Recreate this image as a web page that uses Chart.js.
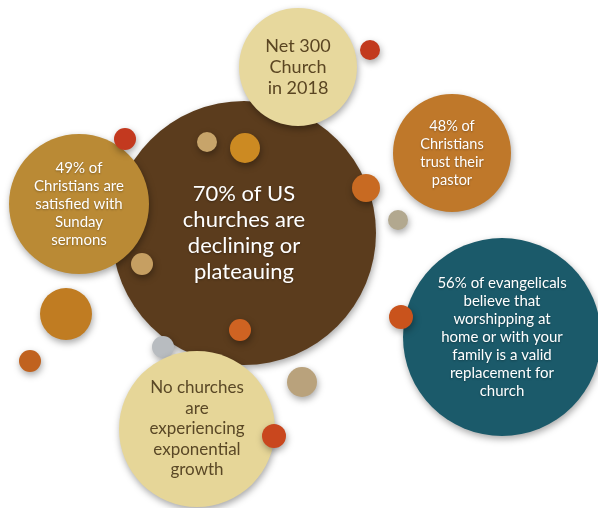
<!DOCTYPE html>
<html>
<head>
<meta charset="utf-8">
<script src="https://cdn.jsdelivr.net/npm/chart.js@4/dist/chart.umd.min.js"></script>
<style>
  html, body { margin: 0; padding: 0; background: #fff; }
  #wrap { width: 598px; height: 508px; }
</style>
</head>
<body>
<div id="wrap"><canvas id="bubbles"></canvas></div>
<script>
// bubble centres (x, y) and radii, drawn in this order
const bubbleX = [244, 298, 370, 452, 366, 398, 502, 401, 79, 125, 207, 245, 142, 66, 30, 240, 163, 197, 274, 302];
const bubbleY = [233, 67, 50, 153, 188, 220, 337, 317, 204, 139, 142, 148, 264, 314, 361, 330, 347, 429, 436, 382];
const bubbleR = [132, 59, 10, 59, 14, 10, 99, 12, 70, 11, 10, 15, 11, 26, 11, 11, 11, 78, 12, 15];

const bubbleColors = [
  "#5b3c1d", "#e7d89d", "#c23a1e", "#bf782a", "#c86a22", "#b2a88f", "#1b5a6a", "#c9531c",
  "#ba8a35", "#c3391f", "#c7a46a", "#cc8a22", "#c69f62", "#c07c22", "#c0621f", "#cf6322",
  "#b8bcc0", "#e6d698", "#c9471e", "#b9a27c"
];

// text written inside the larger bubbles (index into the arrays above)
const labelIndex = [0, 1, 3, 8, 6, 17];
const labelLines = [
  ["70% of US", "churches are", "declining or", "plateauing"],
  ["Net 300", "Church", "in 2018"],
  ["48% of", "Christians", "trust their", "pastor"],
  ["49% of", "Christians are", "satisfied with", "Sunday", "sermons"],
  ["56% of evangelicals", "believe that", "worshipping at", "home or with your", "family is a valid", "replacement for", "church"],
  ["No churches", "are", "experiencing", "exponential", "growth"]
];
const labelSize = [22, 18, 14.5, 15, 15, 17];
const labelGap = [26, 21, 18, 18, 18, 20.5];
const labelColor = ["#ffffff", "#5a4522", "#ffffff", "#ffffff", "#ffffff", "#5a4826"];

const points = bubbleX.map((x, i) => ({ x: x, y: bubbleY[i], r: bubbleR[i] }));

// soft drop shadow under every bubble
const shadowPlugin = {
  id: "bubbleShadow",
  beforeDatasetsDraw(chart) {
    const ctx = chart.ctx;
    ctx.save();
    ctx.shadowColor = "rgba(0,0,0,0.35)";
    ctx.shadowBlur = 7;
    ctx.shadowOffsetX = 1;
    ctx.shadowOffsetY = 3;
  },
  afterDatasetsDraw(chart) {
    chart.ctx.restore();
  }
};

// centred multi-line captions
const captionPlugin = {
  id: "captions",
  afterDraw(chart) {
    const ctx = chart.ctx;
    const xs = chart.scales.x, ys = chart.scales.y;
    ctx.save();
    ctx.textAlign = "center";
    ctx.textBaseline = "middle";
    labelIndex.forEach((idx, k) => {
      const cx = xs.getPixelForValue(bubbleX[idx]);
      const cy = ys.getPixelForValue(bubbleY[idx]);
      const lines = labelLines[k];
      const gap = labelGap[k];
      ctx.font = labelSize[k] + "px Lato, 'Open Sans', sans-serif";
      ctx.fillStyle = labelColor[k];
      // light shadow behind the white captions
      if (labelColor[k] === "#ffffff") {
        ctx.shadowColor = "rgba(0,0,0,0.3)";
        ctx.shadowBlur = 2;
        ctx.shadowOffsetY = 1;
      } else {
        ctx.shadowColor = "transparent";
      }
      const top = cy - gap * (lines.length - 1) / 2;
      lines.forEach((line, j) => ctx.fillText(line, cx, top + j * gap));
    });
    ctx.restore();
  }
};

new Chart(document.getElementById("bubbles").getContext("2d"), {
  type: "bubble",
  data: {
    datasets: [{
      data: points,
      backgroundColor: bubbleColors,
      borderWidth: 0,
      hoverRadius: 0,
      clip: false
    }]
  },
  options: {
    responsive: true,
    maintainAspectRatio: false,
    animation: false,
    layout: { padding: 0, autoPadding: false },
    plugins: {
      legend: { display: false },
      tooltip: { enabled: false }
    },
    scales: {
      x: { type: "linear", min: 0, max: 598, display: false },
      y: { type: "linear", min: 0, max: 508, reverse: true, display: false }
    }
  },
  plugins: [shadowPlugin, captionPlugin]
});
</script>
</body>
</html>
